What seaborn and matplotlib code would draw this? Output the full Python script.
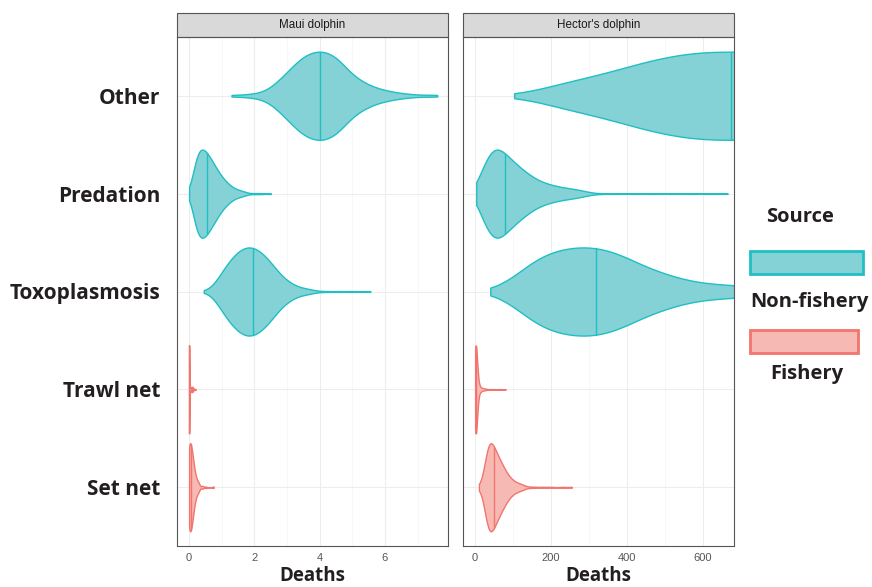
import numpy as np
import pandas as pd
import seaborn as sns
import matplotlib.pyplot as plt
from matplotlib.patches import Rectangle
from matplotlib.ticker import MultipleLocator

# causes of death, top to bottom, and where each one comes from
causes = ["Other", "Predation", "Toxoplasmosis", "Trawl net", "Set net"]
cause_source = ["Non-fishery", "Non-fishery", "Non-fishery", "Fishery", "Fishery"]
sources = ["Non-fishery", "Fishery"]
species = ["Maui dolphin", "Hector's dolphin"]

# Maui dolphin - death values and how many samples sit at each value
maui_other_x = [1.3, 1.6, 1.9, 2.2, 2.5, 2.8, 3.1, 3.4, 3.7, 4.0, 4.3, 4.6, 4.9, 5.2, 5.5, 5.8, 6.1, 6.4, 6.7, 7.0, 7.3, 7.6]
maui_other_n = [1, 1, 2, 3, 8, 17, 27, 37, 43, 45, 43, 36, 24, 16, 11, 7, 5, 3, 2, 1, 1, 1]
maui_pred_x = [0.0, 0.1, 0.2, 0.3, 0.4, 0.5, 0.6, 0.7, 0.8, 0.9, 1.0, 1.1, 1.2, 1.3, 1.4, 1.5, 1.6, 1.7, 1.8, 2.0, 2.2, 2.5]
maui_pred_n = [3, 16, 34, 44, 45, 43, 38, 33, 27, 22, 17, 13, 10, 7, 5, 4, 3, 2, 1, 1, 1, 1]
maui_toxo_x = [0.45, 0.6, 0.75, 0.9, 1.05, 1.2, 1.35, 1.5, 1.65, 1.8, 1.95, 2.1, 2.25, 2.4, 2.55, 2.7, 2.85, 3.0,
               3.15, 3.3, 3.45, 3.6, 3.75, 3.9, 4.2, 4.6, 5.0, 5.55]
maui_toxo_n = [1, 2, 7, 14, 22, 29, 35, 40, 43, 45, 44, 42, 38, 33, 27, 21, 15, 11, 8, 5, 4, 3, 2, 1, 1, 1, 1, 1]
maui_trawl_x = [0.0, 0.05, 0.1, 0.15, 0.2]
maui_trawl_n = [95, 5, 6, 2, 1]
maui_set_x = [0.0, 0.05, 0.1, 0.15, 0.2, 0.25, 0.3, 0.4, 0.5, 0.75]
maui_set_n = [40, 38, 30, 18, 10, 6, 4, 2, 1, 1]

# Hector's dolphin
hector_other_x = [103, 125, 150, 200, 250, 300, 350, 400, 450, 500, 550, 600, 650, 700, 750, 800, 850, 900, 950, 1000,
                  1050, 1100, 1150, 1200, 1250]
hector_other_n = [1, 1, 3, 9, 13, 17, 21, 26, 31, 35, 38, 40, 40, 40, 40, 38, 35, 31, 26, 21, 17, 13, 9, 4, 1]
hector_pred_x = [3, 10, 20, 30, 40, 50, 60, 70, 80, 90, 100, 110, 120, 130, 140, 150, 160, 170, 180, 190, 200, 210, 220,
                 230, 240, 250, 260, 270, 280, 290, 300, 330, 370, 420, 470, 520, 570, 620, 666]
hector_pred_n = [1, 12, 25, 34, 40, 44, 43, 40, 36, 32, 29, 26, 23, 20, 18, 15, 13, 11, 10, 9, 8, 7, 6, 6, 5, 5, 4, 4, 3,
                 2, 2, 1, 1, 1, 1, 1, 1, 1, 1]
hector_toxo_x = [40, 80, 120, 160, 200, 240, 280, 320, 360, 400, 440, 480, 520, 560, 600, 640, 680, 720, 760, 800, 840,
                 880, 920, 960, 1000, 1040, 1080, 1120]
hector_toxo_n = [1, 6, 20, 33, 39, 42, 44, 43, 40, 33, 25, 19, 15, 10, 8, 7, 6, 5, 5, 4, 4, 3, 3, 2, 2, 1, 1, 1]
hector_trawl_x = [0, 2, 4, 6, 8, 12, 16, 20, 25, 30, 40, 50, 65, 80]
hector_trawl_n = [60, 45, 25, 15, 9, 5, 3, 2, 2, 1, 1, 1, 1, 1]
hector_set_x = [10, 18, 26, 34, 42, 50, 58, 66, 74, 82, 90, 98, 106, 114, 122, 130, 145, 160, 180, 200, 230, 255]
hector_set_n = [1, 5, 22, 45, 44, 38, 31, 25, 20, 14, 10, 7, 5, 4, 3, 2, 1, 1, 1, 1, 1, 1]

samples = {
    "Maui dolphin": [(maui_other_x, maui_other_n), (maui_pred_x, maui_pred_n), (maui_toxo_x, maui_toxo_n),
                     (maui_trawl_x, maui_trawl_n), (maui_set_x, maui_set_n)],
    "Hector's dolphin": [(hector_other_x, hector_other_n), (hector_pred_x, hector_pred_n), (hector_toxo_x, hector_toxo_n),
                         (hector_trawl_x, hector_trawl_n), (hector_set_x, hector_set_n)],
}

rows = []
for sp in species:
    for cause, src, (xs, ns) in zip(causes, cause_source, samples[sp]):
        for v in np.repeat(xs, ns):
            rows.append({"species": sp, "cause": cause, "source": src, "deaths": v})
df = pd.DataFrame(rows)

line_col = {"Non-fishery": "#1FBFC4", "Fishery": "#F2756D"}
fill_col = {"Non-fishery": "#84D1D6", "Fishery": "#F7B9B3"}

sns.set_style("white")
plt.rcParams["font.family"] = ["Liberation Sans", "DejaVu Sans"]
bold_font = ["Open Sans", "DejaVu Sans"]

W, H = 872, 587
top_px, bot_px = 37, 546
fig = plt.figure(figsize=(W / 100, H / 100), dpi=100)
ax1 = fig.add_axes([177 / W, 1 - bot_px / H, 271 / W, (bot_px - top_px) / H])
ax2 = fig.add_axes([463 / W, 1 - bot_px / H, 271 / W, (bot_px - top_px) / H])
axes = [ax1, ax2]
ph = bot_px - top_px

limites = [(-0.37, 7.93), (-32, 683)]
ticks = [[0, 2, 4, 6], [0, 200, 400, 600]]
minor = [1, 100]

for ax, sp, lim, tk, mn in zip(axes, species, limites, ticks, minor):
    sub = df[df.species == sp]
    sns.violinplot(data=sub, x="deaths", y="cause", hue="source", order=causes, hue_order=sources,
                   palette=line_col, dodge=False, orient="y", density_norm="width", cut=0, bw_adjust=0.8,
                   inner=None, width=0.9, saturation=1, linewidth=1, legend=False, ax=ax)

    # ggplot-like look: light fill, coloured outline, median line across the violin
    for pc in list(ax.collections):
        verts = pc.get_paths()[0].vertices
        mid = int(round(verts[:, 1].mean()))
        cause = causes[mid]
        src = cause_source[mid]
        pc.set_facecolor(fill_col[src])
        pc.set_edgecolor(line_col[src])
        pc.set_linewidth(1.0)
        med = np.median(sub[sub.cause == cause].deaths)
        half = verts[verts[:, 1] <= mid]
        order = np.argsort(half[:, 0])
        hw = np.interp(med, half[order, 0], mid - half[order, 1])
        ax.plot([med, med], [mid - hw, mid + hw], color=line_col[src], lw=1.0, zorder=3)

    ax.set_xlim(lim)
    ax.set_ylim(4.6, -0.6)
    ax.set_xticks(tk)
    ax.xaxis.set_minor_locator(MultipleLocator(mn))
    ax.set_axisbelow(True)
    ax.grid(True, which="major", color="#EDEDED", lw=0.8)
    ax.grid(True, which="minor", axis="x", color="#F4F4F4", lw=0.5)
    for s in ax.spines.values():
        s.set_visible(True)
        s.set_color("#555555")
        s.set_linewidth(0.8)
    ax.tick_params(axis="both", which="major", length=3.5, width=0.8, color="#444444")
    ax.tick_params(axis="x", which="minor", length=0)
    ax.tick_params(axis="x", labelsize=8, labelcolor="#555555", pad=1.5)
    ax.set_ylabel("")
    ax.set_xlabel("Deaths", fontsize=13.5, fontweight="bold", family=bold_font, color="#231F20")
    ax.xaxis.set_label_coords(0.5, -(586 - bot_px) / ph)
    ax.xaxis.label.set_va("bottom")

    # strip on top of each panel
    ax.add_patch(Rectangle((0, 1), 1, 24 / ph, transform=ax.transAxes, clip_on=False,
                           facecolor="#D9D9D9", edgecolor="#555555", lw=0.8))
    ax.text(0.5, 1 + 12 / ph, sp, transform=ax.transAxes, ha="center", va="center",
            fontsize=8.4, color="#1A1A1A")

ax1.set_yticks(range(len(causes)))
ax1.set_yticklabels(causes, fontsize=15, fontweight="bold", family=bold_font, color="#231F20")
ax1.tick_params(axis="y", pad=8.5)
ax2.set_yticks(range(len(causes)))
ax2.set_yticklabels([])

# legend: title, keys with their labels underneath
fig.text(800 / W, 1 - 217 / H, "Source", ha="center", va="center", fontsize=14.5,
         fontweight="bold", family=bold_font, color="#231F20")
key_box = {"Non-fishery": (251, 113, 302, 809), "Fishery": (330, 108, 374, 807)}
for src in sources:
    top, wid, lab_y, lab_x = key_box[src]
    fig.add_artist(Rectangle((750 / W, 1 - (top + 23) / H), wid / W, 23 / H, transform=fig.transFigure,
                             facecolor=fill_col[src], edgecolor=line_col[src], lw=2))
    fig.text(lab_x / W, 1 - lab_y / H, src, ha="center", va="center", fontsize=14.5,
             fontweight="bold", family=bold_font, color="#231F20")

fig.savefig("out.png", dpi=100)
